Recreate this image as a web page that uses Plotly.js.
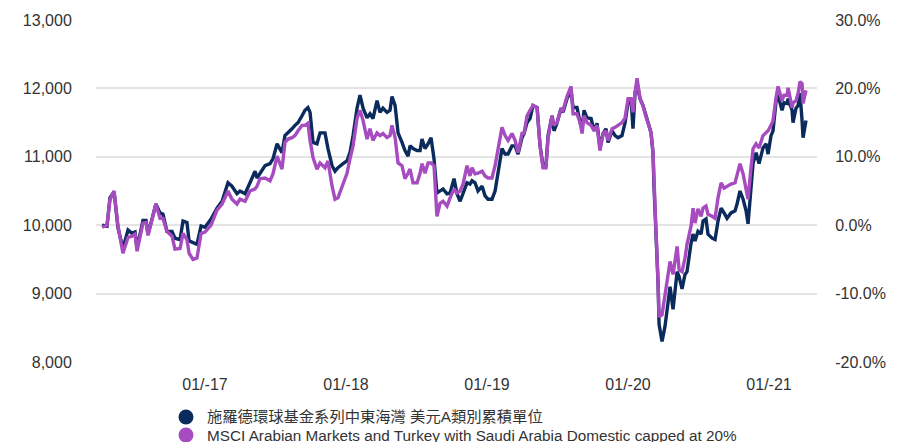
<!DOCTYPE html>
<html>
<head>
<meta charset="utf-8">
<script src="https://cdn.plot.ly/plotly-3.0.1.min.js"></script>
<style>
html,body{margin:0;padding:0;background:#fff;}
#chart{width:898px;height:442px;}
</style>
</head>
<body>
<div id="chart"></div>
<script>
// Time in decimal years
const years = [
2016.270,2016.305,2016.326,2016.355,2016.383,2016.418,2016.454,2016.482,2016.504,2016.518,
2016.560,2016.582,2016.596,2016.652,2016.681,2016.702,2016.730,2016.766,2016.787,2016.823,
2016.844,2016.872,2016.887,2016.915,2016.943,2016.972,2017.000,2017.043,2017.085,2017.121,
2017.163,2017.191,2017.227,2017.248,2017.284,2017.319,2017.355,2017.369,2017.390,2017.426,
2017.461,2017.482,2017.511,2017.546,2017.567,2017.589,2017.617,2017.638,2017.660,2017.688,
2017.709,2017.730,2017.745,2017.766,2017.794,2017.816,2017.851,2017.872,2017.901,2017.922,
2017.943,2017.979,2018.007,2018.028,2018.050,2018.078,2018.099,2018.121,2018.149,2018.170,
2018.191,2018.220,2018.241,2018.262,2018.291,2018.312,2018.326,2018.348,2018.369,2018.397,
2018.418,2018.440,2018.454,2018.475,2018.504,2018.525,2018.539,2018.560,2018.582,2018.603,
2018.624,2018.645,2018.667,2018.688,2018.716,2018.738,2018.766,2018.787,2018.809,2018.830,
2018.858,2018.879,2018.894,2018.915,2018.936,2018.965,2018.986,2019.007,2019.035,2019.057,
2019.078,2019.106,2019.128,2019.149,2019.177,2019.199,2019.220,2019.248,2019.262,2019.284,
2019.305,2019.326,2019.355,2019.376,2019.397,2019.418,2019.433,2019.461,2019.475,2019.496,
2019.525,2019.539,2019.567,2019.596,2019.610,2019.638,2019.660,2019.674,2019.688,2019.709,
2019.738,2019.759,2019.780,2019.801,2019.823,2019.844,2019.858,2019.887,2019.908,2019.929,
2019.957,2019.979,2020.000,2020.021,2020.035,2020.050,2020.064,2020.085,2020.106,2020.121,
2020.142,2020.163,2020.177,2020.184,2020.199,2020.213,2020.220,2020.241,2020.262,2020.277,
2020.298,2020.319,2020.348,2020.362,2020.383,2020.404,2020.418,2020.447,2020.461,2020.475,
2020.496,2020.518,2020.532,2020.553,2020.567,2020.596,2020.617,2020.638,2020.660,2020.681,
2020.702,2020.730,2020.759,2020.773,2020.794,2020.816,2020.837,2020.851,2020.872,2020.887,
2020.908,2020.929,2020.957,2020.979,2020.993,2021.014,2021.028,2021.050,2021.064,2021.092,
2021.106,2021.128,2021.135,2021.163,2021.170,2021.191,2021.206,2021.220,2021.234,2021.241,
2021.262
];

// Fund: cumulative USD A units (indexed to 10,000)
const fundValues = [
10000,9985,10400,10490,9960,9660,9930,9880,9900,9660,
10070,10070,9870,10310,10180,10160,9910,9910,9810,9790,
10060,10040,9770,9740,9720,9990,9970,10090,10250,10350,
10620,10570,10460,10500,10460,10620,10790,10690,10760,10870,
10900,10970,11190,11060,11310,11350,11410,11460,11500,11600,
11680,11720,11650,11210,11190,11350,11350,11120,10870,10790,
10840,10900,10940,11060,11310,11710,11900,11710,11570,11630,
11560,11820,11650,11710,11650,11680,11880,11750,11350,11210,
11090,11010,11160,11120,11090,11090,11260,11120,11190,11280,
10970,10470,10500,10530,10460,10470,10680,10460,10350,10460,
10620,10600,10650,10620,10500,10570,10430,10380,10380,10500,
10760,11120,11040,11040,11160,11160,11040,11280,11340,11500,
11560,11750,11720,11160,10870,10870,11310,11600,11380,11490,
11710,11650,11850,11970,11720,11720,11500,11410,11680,11570,
11560,11380,11490,11130,11340,11410,11210,11380,11310,11280,
11310,11500,11790,11850,11410,11940,12070,11850,11750,11630,
11500,11350,11060,10570,9880,9150,8550,8300,8520,8770,
9100,8770,9320,9250,9070,9280,9320,9740,9870,9770,
9910,9870,10060,10090,9870,9810,9790,10060,10250,10180,
10100,10180,10210,10310,10500,10380,10210,10020,10600,10910,
11060,10900,11130,11190,11040,11310,11380,11820,11900,11680,
11790,11780,11850,11680,11500,11710,11750,11930,11530,11280,
11530
];

// Benchmark: MSCI Arabian Markets and Turkey with Saudi Arabia Domestic capped at 20%
const benchValues = [
9970,10000,10370,10500,9990,9590,9820,9840,9870,9620,
10030,10040,9850,10310,10100,10100,9910,9840,9650,9660,
9880,9790,9590,9500,9520,9880,9900,10000,10220,10310,
10500,10380,10310,10380,10350,10500,10530,10570,10680,10690,
10650,10750,11010,10820,11210,11260,11280,11310,11380,11460,
11460,11490,11240,10990,10820,10910,10840,10940,10570,10380,
10400,10600,10760,10970,11160,11560,11680,11530,11260,11410,
11240,11350,11310,11340,11280,11310,11460,11280,10910,10870,
10680,10760,10820,10620,10620,10760,10900,10760,10910,10910,
10870,10130,10320,10350,10280,10400,10530,10470,10500,10600,
10870,10720,10840,10750,10760,10790,10720,10690,10690,10870,
11120,11430,11310,11240,11340,11240,11060,11340,11340,11600,
11680,11750,11720,11160,10840,10840,11280,11600,11460,11500,
11710,11680,11880,12030,11630,11630,11500,11340,11600,11500,
11460,11380,11460,11090,11340,11380,11240,11410,11430,11460,
11500,11570,11850,11850,11650,11940,12150,11850,11750,11630,
11500,11350,11060,10570,9880,9150,8660,8690,9000,9210,
9470,9280,9690,9350,9320,9520,9720,9990,10250,10030,
10240,10130,10250,10280,10160,10130,10100,10400,10620,10540,
10570,10600,10620,10720,10900,10750,10500,10380,10840,11120,
11190,11130,11310,11350,11380,11460,11530,11870,12030,11820,
11900,11900,12010,11720,11790,11820,11930,12100,12070,11780,
11970
];

const seriesNames = ['施羅德環球基金系列中東海灣 美元A類別累積單位',
  'MSCI Arabian Markets and Turkey with Saudi Arabia Domestic capped at 20%'];
const xTickVals = [2017, 2018, 2019, 2020, 2021];
const xTickText = ['01/-17', '01/-18', '01/-19', '01/-20', '01/-21'];
const y2TickVals = [-0.2, -0.1, 0, 0.1, 0.2, 0.3];
const y2TickText = ['-20.0%', '-10.0%', '0.0%', '10.0%', '20.0%', '30.0%'];

const NAVY = '#0b2b5c';
const PURPLE = '#a64bc0';
const colors = [NAVY, PURPLE];

const traces = [
  {x: years, y: fundValues, type: 'scatter', mode: 'lines', line: {color: NAVY, width: 3.4}, name: seriesNames[0], hoverinfo: 'skip'},
  {x: years, y: benchValues, type: 'scatter', mode: 'lines', line: {color: PURPLE, width: 3.4}, name: seriesNames[1], hoverinfo: 'skip'},
  {x: [null], y: [null], type: 'scatter', mode: 'markers', yaxis: 'y2', hoverinfo: 'skip', showlegend: false}
];

// Legend drawn below the plot (circles + text), placed in paper coordinates
const legendX = 0.1248, legendTextX = 0.1512;
const legendY = [-0.1608, -0.2135];
const shapes = legendY.map((yy, i) => ({
  type: 'circle', xref: 'paper', yref: 'paper',
  xsizemode: 'pixel', ysizemode: 'pixel',
  xanchor: legendX, yanchor: yy,
  x0: -7.5, x1: 7.5, y0: -7.5, y1: 7.5,
  fillcolor: colors[i], line: {width: 0}
}));
const annotations = legendY.map((yy, i) => ({
  xref: 'paper', yref: 'paper', x: legendTextX, y: yy,
  xanchor: 'left', yanchor: 'middle', showarrow: false,
  text: seriesNames[i], font: {size: 15.3, color: '#333333'}
}));

const layout = {
  width: 898, height: 442,
  margin: {l: 96, r: 81, t: 20, b: 80, pad: 0},
  paper_bgcolor: '#ffffff', plot_bgcolor: '#ffffff',
  font: {family: '"Liberation Sans", Arial, "Noto Sans CJK TC", sans-serif', size: 16, color: '#333333'},
  showlegend: false,
  xaxis: {
    range: [2016.227, 2021.340], tickmode: 'array', tickvals: xTickVals, ticktext: xTickText,
    showgrid: false, zeroline: false, showline: false,
    ticks: 'outside', ticklen: 8, tickcolor: 'rgba(0,0,0,0)'
  },
  yaxis: {
    range: [8000, 13000], dtick: 1000, tickformat: ',',
    gridcolor: '#e4e4e4', gridwidth: 2, zeroline: false, showline: false,
    ticks: 'outside', ticklen: 20, tickcolor: 'rgba(0,0,0,0)'
  },
  yaxis2: {
    overlaying: 'y', side: 'right', range: [-0.2, 0.3],
    tickmode: 'array', tickvals: y2TickVals, ticktext: y2TickText,
    showgrid: false, zeroline: false, showline: false,
    ticks: 'outside', ticklen: 14, tickcolor: 'rgba(0,0,0,0)'
  },
  shapes: shapes,
  annotations: annotations
};

Plotly.newPlot('chart', traces, layout, {displayModeBar: false, staticPlot: true});
</script>
</body>
</html>
